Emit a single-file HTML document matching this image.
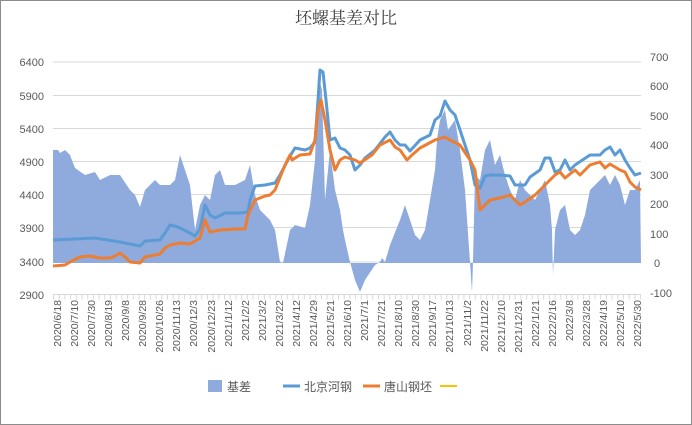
<!DOCTYPE html>
<html><head><meta charset="utf-8"><style>
body{margin:0;background:#fff}
svg{display:block}
text{font-family:"Liberation Sans","Noto Sans CJK SC",sans-serif;fill:#595959}
</style></head><body>
<svg width="692" height="425" viewBox="0 0 692 425" xmlns="http://www.w3.org/2000/svg">
<rect x="0.5" y="0.5" width="691" height="424" fill="#fff" stroke="#8c8c8c"/>
<text x="346" y="24" text-anchor="middle" style="font-family:'Noto Serif CJK SC',serif;font-size:17px;fill:#404040">坯螺基差对比</text>
<g stroke="#d9d9d9" stroke-width="1">
<line x1="53" y1="62" x2="641" y2="62"/><line x1="53" y1="95.5" x2="641" y2="95.5"/><line x1="53" y1="128.5" x2="641" y2="128.5"/><line x1="53" y1="161.5" x2="641" y2="161.5"/><line x1="53" y1="194.5" x2="641" y2="194.5"/><line x1="53" y1="227.5" x2="641" y2="227.5"/><line x1="53" y1="262" x2="641" y2="262"/><line x1="53" y1="294.5" x2="641" y2="294.5"/>
</g>
<g font-size="11" text-anchor="end">
<text x="44" y="66">6400</text><text x="44" y="100">5900</text><text x="44" y="133">5400</text><text x="44" y="166">4900</text><text x="44" y="199">4400</text><text x="44" y="232">3900</text><text x="44" y="266">3400</text><text x="44" y="299">2900</text>
</g>
<g font-size="11" text-anchor="start">
<text x="650" y="61">700</text><text x="650" y="90">600</text><text x="650" y="120">500</text><text x="650" y="149">400</text><text x="650" y="179">300</text><text x="650" y="208">200</text><text x="650" y="238">100</text><text x="654" y="267">0</text><text x="650" y="297">-100</text>
</g>
<polygon fill="#8faadc" points="53,263 53,150 58,150 60,153 65,150 70,155 75,168 85,175 95,172 100,180 110,175 120,175 130,190 135,195 140,207 145,190 155,180 160,185 170,185 175,180 180,155 185,170 190,185 195,230 200,205 205,195 210,200 215,175 220,170 225,185 235,185 245,180 250,165 255,195 260,210 270,220 275,230 280,262 283,263 290,230 295,225 305,228 310,205 315,160 318,75 322,90 325,200 330,150 335,190 340,210 343,230 345,240 350,262 355,280 360,292 365,280 375,265 380,262 382,258 385,262 390,245 400,220 405,205 410,220 415,235 420,240 425,230 430,200 435,170 437,140 440,120 445,110 448,130 455,120 460,150 465,190 470,262 472,292 473,262 475,175 480,180 485,150 490,140 495,165 500,155 505,175 510,190 515,200 520,180 525,190 530,195 535,200 540,190 545,180 550,205 552,230 553,275 555,230 560,210 565,205 570,230 575,235 580,230 585,215 590,190 595,185 600,180 605,175 610,185 615,175 620,185 625,205 630,190 635,190 640,180 641,263"/>
<polyline fill="none" stroke="#5b9bd5" stroke-width="3" stroke-linejoin="round" points="53,240 75,239 95,238 120,242 140,246 145,241 160,240 165,233 170,225 178,227 190,233 195,236 200,229 205,205 210,215 215,218 225,213 240,213 248,212 250,200 255,186 265,185 275,183 280,175 290,156 295,148 305,150 310,148 315,142 318,100 320,70 323,72 326,100 330,140 335,138 340,148 345,150 350,155 355,170 360,165 365,158 375,150 385,137 390,132 395,140 400,145 405,145 410,151 420,140 430,135 435,120 440,116 445,101 450,110 455,115 460,130 465,145 470,160 475,185 480,188 485,176 490,175 500,175 510,176 515,185 525,185 530,177 540,170 545,158 550,158 555,172 560,170 565,160 570,170 575,165 590,155 595,155 600,155 605,150 610,147 615,155 620,150 625,160 630,168 635,175 641,173"/>
<polyline fill="none" stroke="#ed7d31" stroke-width="3" stroke-linejoin="round" points="53,266 65,265 70,262 80,257 90,256 100,258 110,258 115,256 120,253 125,257 130,262 140,263 145,257 160,254 165,248 170,245 180,243 190,244 200,238 205,220 210,232 220,230 235,229 245,229 248,215 255,200 265,196 270,195 275,190 285,165 290,155 292,160 300,155 310,154 315,140 318,110 321,100 325,120 330,150 335,170 340,160 345,157 355,160 360,163 372,155 380,145 390,140 395,147 400,150 407,160 412,155 420,148 435,140 445,137 450,140 460,145 470,160 475,170 480,210 485,205 490,200 500,198 510,195 520,205 525,202 535,195 545,185 550,180 555,175 560,172 565,178 575,170 580,175 590,165 600,162 605,168 610,164 620,170 625,172 630,182 635,187 641,190"/>
<g stroke="#d9d9d9"><line x1="53" y1="294.5" x2="641" y2="294.5"/></g>
<g stroke="#d9d9d9" stroke-dasharray="1 4.7"><line x1="53" y1="297" x2="641" y2="297" stroke-width="5"/></g>
<g font-size="10.5" text-anchor="end">
<text transform="translate(61,300) rotate(-90)">2020/6/18</text>
<text transform="translate(78,300) rotate(-90)">2020/7/10</text>
<text transform="translate(95,300) rotate(-90)">2020/7/30</text>
<text transform="translate(112,300) rotate(-90)">2020/8/19</text>
<text transform="translate(129,300) rotate(-90)">2020/9/8</text>
<text transform="translate(146,300) rotate(-90)">2020/9/28</text>
<text transform="translate(163,300) rotate(-90)">2020/10/26</text>
<text transform="translate(180,300) rotate(-90)">2020/11/13</text>
<text transform="translate(197,300) rotate(-90)">2020/12/3</text>
<text transform="translate(215,300) rotate(-90)">2020/12/23</text>
<text transform="translate(232,300) rotate(-90)">2021/1/12</text>
<text transform="translate(249,300) rotate(-90)">2021/2/2</text>
<text transform="translate(266,300) rotate(-90)">2021/3/2</text>
<text transform="translate(283,300) rotate(-90)">2021/3/22</text>
<text transform="translate(300,300) rotate(-90)">2021/4/12</text>
<text transform="translate(317,300) rotate(-90)">2021/4/29</text>
<text transform="translate(334,300) rotate(-90)">2021/5/21</text>
<text transform="translate(351,300) rotate(-90)">2021/6/10</text>
<text transform="translate(368,300) rotate(-90)">2021/7/1</text>
<text transform="translate(385,300) rotate(-90)">2021/7/21</text>
<text transform="translate(402,300) rotate(-90)">2021/8/10</text>
<text transform="translate(419,300) rotate(-90)">2021/8/30</text>
<text transform="translate(436,300) rotate(-90)">2021/9/17</text>
<text transform="translate(453,300) rotate(-90)">2021/10/13</text>
<text transform="translate(471,300) rotate(-90)">2021/11/2</text>
<text transform="translate(488,300) rotate(-90)">2021/11/22</text>
<text transform="translate(505,300) rotate(-90)">2021/12/10</text>
<text transform="translate(522,300) rotate(-90)">2021/12/31</text>
<text transform="translate(539,300) rotate(-90)">2022/1/21</text>
<text transform="translate(556,300) rotate(-90)">2022/2/16</text>
<text transform="translate(573,300) rotate(-90)">2022/3/8</text>
<text transform="translate(590,300) rotate(-90)">2022/3/28</text>
<text transform="translate(607,300) rotate(-90)">2022/4/19</text>
<text transform="translate(624,300) rotate(-90)">2022/5/10</text>
<text transform="translate(641,300) rotate(-90)">2022/5/30</text>
</g>
<g font-size="12">
<rect x="208" y="380" width="14" height="12" fill="#8faadc"/>
<text x="227" y="391">基差</text>
<line x1="283" y1="386" x2="300" y2="386" stroke="#5b9bd5" stroke-width="3"/>
<text x="304" y="391">北京河钢</text>
<line x1="363" y1="386" x2="380" y2="386" stroke="#ed7d31" stroke-width="3"/>
<text x="384" y="391">唐山钢坯</text>
<line x1="440" y1="386" x2="457" y2="386" stroke="#ffc000" stroke-width="2"/>
</g>
</svg>
</body></html>
